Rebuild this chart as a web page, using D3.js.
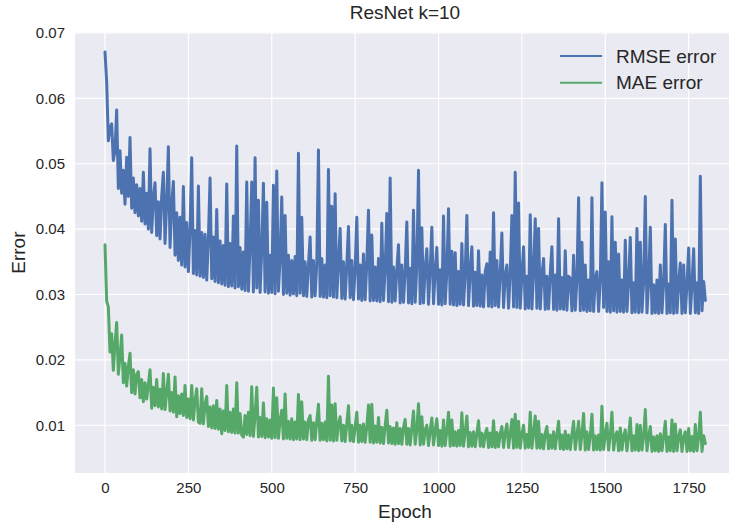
<!DOCTYPE html>
<html>
<head>
<meta charset="utf-8">
<script src="https://cdn.jsdelivr.net/npm/d3@7"></script>
<style>
  body { margin: 0; background: #fff; }
  text { font-family: "Liberation Sans", Arial, sans-serif; fill: #262626; }
</style>
</head>
<body>
<svg id="chart" width="729" height="522"></svg>
<script>
// one value every 5 epochs
const epochStep = 5;

const rmse = [
  0.0671,0.0625,0.0535,0.0555,0.0561,0.0505,0.0520,0.0582,0.0462,0.0520,0.0455,0.0490,0.0438,0.0510,0.0450,0.0540,0.0432,0.0478,0.0425,0.0468,
  0.0420,0.0462,0.0412,0.0487,0.0408,0.0455,0.0400,0.0523,0.0395,0.0448,0.0471,0.0390,0.0442,0.0385,0.0450,0.0487,0.0378,0.0440,0.0526,0.0372,
  0.0436,0.0473,0.0360,0.0425,0.0352,0.0418,0.0345,0.0465,0.0342,0.0410,0.0335,0.0400,0.0509,0.0332,0.0398,0.0330,0.0466,0.0328,0.0395,0.0326,
  0.0392,0.0322,0.0385,0.0478,0.0324,0.0388,0.0320,0.0430,0.0318,0.0382,0.0316,0.0375,0.0314,0.0469,0.0312,0.0378,0.0313,0.0420,0.0310,0.0527,
  0.0312,0.0372,0.0308,0.0365,0.0306,0.0472,0.0305,0.0375,0.0472,0.0304,0.0509,0.0310,0.0444,0.0303,0.0368,0.0470,0.0304,0.0441,0.0302,0.0360,
  0.0303,0.0467,0.0301,0.0489,0.0305,0.0355,0.0449,0.0300,0.0421,0.0302,0.0360,0.0299,0.0352,0.0301,0.0358,0.0298,0.0516,0.0302,0.0418,0.0298,
  0.0350,0.0297,0.0345,0.0388,0.0296,0.0352,0.0298,0.0348,0.0521,0.0297,0.0355,0.0296,0.0345,0.0295,0.0491,0.0298,0.0435,0.0296,0.0454,0.0295,
  0.0348,0.0401,0.0294,0.0350,0.0293,0.0345,0.0404,0.0295,0.0352,0.0292,0.0340,0.0418,0.0293,0.0345,0.0291,0.0362,0.0292,0.0348,0.0429,0.0290,
  0.0391,0.0291,0.0342,0.0290,0.0355,0.0289,0.0409,0.0291,0.0340,0.0424,0.0289,0.0478,0.0288,0.0342,0.0290,0.0338,0.0376,0.0287,0.0345,0.0288,
  0.0336,0.0411,0.0287,0.0340,0.0286,0.0429,0.0288,0.0345,0.0490,0.0286,0.0402,0.0287,0.0340,0.0370,0.0285,0.0338,0.0403,0.0286,0.0335,0.0372,
  0.0285,0.0338,0.0284,0.0420,0.0286,0.0335,0.0431,0.0285,0.0366,0.0284,0.0364,0.0283,0.0335,0.0285,0.0378,0.0284,0.0332,0.0421,0.0283,0.0336,
  0.0373,0.0282,0.0334,0.0283,0.0367,0.0282,0.0330,0.0281,0.0335,0.0347,0.0282,0.0365,0.0281,0.0425,0.0283,0.0352,0.0281,0.0332,0.0394,0.0280,
  0.0330,0.0345,0.0279,0.0332,0.0421,0.0281,0.0487,0.0280,0.0440,0.0279,0.0330,0.0373,0.0278,0.0328,0.0279,0.0422,0.0278,0.0335,0.0416,0.0279,
  0.0401,0.0278,0.0330,0.0355,0.0277,0.0328,0.0278,0.0332,0.0373,0.0277,0.0330,0.0276,0.0416,0.0278,0.0326,0.0277,0.0367,0.0276,0.0328,0.0325,
  0.0275,0.0360,0.0276,0.0322,0.0448,0.0275,0.0380,0.0276,0.0345,0.0274,0.0322,0.0275,0.0448,0.0274,0.0325,0.0335,0.0274,0.0320,0.0471,0.0280,
  0.0426,0.0274,0.0350,0.0273,0.0419,0.0275,0.0380,0.0273,0.0362,0.0274,0.0322,0.0273,0.0383,0.0274,0.0320,0.0387,0.0272,0.0318,0.0273,0.0401,
  0.0272,0.0380,0.0273,0.0320,0.0450,0.0272,0.0318,0.0403,0.0271,0.0315,0.0272,0.0322,0.0271,0.0345,0.0272,0.0318,0.0407,0.0271,0.0316,0.0272,
  0.0444,0.0271,0.0385,0.0272,0.0318,0.0348,0.0271,0.0345,0.0272,0.0316,0.0371,0.0271,0.0315,0.0370,0.0272,0.0318,0.0271,0.0481,0.0275,0.0320,
  0.0291
];

const mae = [
  0.0376,0.0290,0.0281,0.0212,0.0240,0.0184,0.0225,0.0257,0.0178,0.0205,0.0238,0.0165,0.0195,0.0160,0.0190,0.0210,0.0150,0.0185,0.0148,0.0178,
  0.0182,0.0142,0.0170,0.0136,0.0165,0.0140,0.0162,0.0185,0.0126,0.0158,0.0130,0.0170,0.0128,0.0155,0.0125,0.0179,0.0124,0.0150,0.0178,0.0122,
  0.0150,0.0120,0.0174,0.0113,0.0145,0.0118,0.0148,0.0115,0.0161,0.0112,0.0140,0.0110,0.0161,0.0108,0.0138,0.0156,0.0105,0.0103,0.0156,0.0102,
  0.0132,0.0144,0.0098,0.0128,0.0096,0.0130,0.0095,0.0138,0.0094,0.0125,0.0087,0.0122,0.0092,0.0161,0.0090,0.0120,0.0089,0.0125,0.0088,0.0165,
  0.0088,0.0118,0.0085,0.0082,0.0115,0.0086,0.0120,0.0084,0.0159,0.0083,0.0115,0.0158,0.0082,0.0112,0.0083,0.0134,0.0081,0.0110,0.0082,0.0108,
  0.0080,0.0157,0.0081,0.0142,0.0080,0.0108,0.0123,0.0079,0.0148,0.0080,0.0106,0.0079,0.0110,0.0078,0.0105,0.0079,0.0147,0.0078,0.0136,0.0079,
  0.0105,0.0078,0.0108,0.0115,0.0077,0.0104,0.0078,0.0106,0.0132,0.0077,0.0103,0.0078,0.0105,0.0076,0.0175,0.0077,0.0131,0.0076,0.0133,0.0077,
  0.0102,0.0113,0.0076,0.0100,0.0075,0.0103,0.0130,0.0076,0.0100,0.0075,0.0098,0.0120,0.0074,0.0100,0.0075,0.0102,0.0074,0.0098,0.0131,0.0074,
  0.0132,0.0073,0.0099,0.0074,0.0112,0.0073,0.0097,0.0072,0.0100,0.0123,0.0073,0.0098,0.0072,0.0096,0.0071,0.0104,0.0072,0.0095,0.0071,0.0097,
  0.0109,0.0071,0.0095,0.0070,0.0096,0.0122,0.0071,0.0094,0.0133,0.0070,0.0113,0.0071,0.0093,0.0100,0.0069,0.0092,0.0111,0.0070,0.0092,0.0110,
  0.0069,0.0092,0.0068,0.0108,0.0069,0.0091,0.0120,0.0068,0.0108,0.0069,0.0090,0.0068,0.0092,0.0069,0.0119,0.0068,0.0090,0.0114,0.0067,0.0089,
  0.0068,0.0090,0.0067,0.0088,0.0107,0.0068,0.0088,0.0067,0.0087,0.0095,0.0066,0.0088,0.0067,0.0107,0.0066,0.0089,0.0067,0.0087,0.0098,0.0066,
  0.0088,0.0102,0.0066,0.0087,0.0109,0.0065,0.0117,0.0066,0.0106,0.0065,0.0087,0.0100,0.0065,0.0086,0.0066,0.0120,0.0065,0.0088,0.0114,0.0065,
  0.0106,0.0065,0.0086,0.0064,0.0088,0.0098,0.0064,0.0085,0.0065,0.0090,0.0064,0.0086,0.0106,0.0064,0.0085,0.0063,0.0091,0.0064,0.0085,0.0063,
  0.0086,0.0106,0.0063,0.0085,0.0106,0.0063,0.0086,0.0118,0.0062,0.0090,0.0063,0.0084,0.0117,0.0062,0.0084,0.0063,0.0085,0.0062,0.0129,0.0063,
  0.0086,0.0103,0.0062,0.0085,0.0120,0.0062,0.0084,0.0090,0.0061,0.0096,0.0062,0.0084,0.0093,0.0061,0.0083,0.0111,0.0061,0.0084,0.0062,0.0101,
  0.0061,0.0100,0.0062,0.0083,0.0124,0.0061,0.0083,0.0098,0.0060,0.0082,0.0061,0.0084,0.0060,0.0087,0.0061,0.0083,0.0106,0.0060,0.0082,0.0061,
  0.0108,0.0060,0.0102,0.0061,0.0083,0.0093,0.0060,0.0082,0.0090,0.0060,0.0095,0.0061,0.0083,0.0060,0.0101,0.0061,0.0082,0.0120,0.0060,0.0084,
  0.0072
];

const seriesNames = ["RMSE error", "MAE error"];
const seriesColors = ["#4C72B0", "#55A868"];
const xTicks = [0, 250, 500, 750, 1000, 1250, 1500, 1750];
const yTicks = [0.01, 0.02, 0.03, 0.04, 0.05, 0.06, 0.07];

const svg = d3.select("#chart");
const plot = { left: 75, right: 735, top: 32.3, bottom: 473 };

const x = d3.scaleLinear().domain([-89.95, 1888.95]).range([plot.left, plot.right]);
const y = d3.scaleLinear().domain([0.0027, 0.0701]).range([plot.bottom, plot.top]);

svg.append("rect")
    .attr("width", 729).attr("height", 522).attr("fill", "#fff");

svg.append("rect")
    .attr("x", plot.left).attr("y", plot.top)
    .attr("width", plot.right - plot.left)
    .attr("height", plot.bottom - plot.top)
    .attr("fill", "#EAEAF2");

svg.append("clipPath").attr("id", "clip")
  .append("rect")
    .attr("x", plot.left).attr("y", plot.top)
    .attr("width", plot.right - plot.left)
    .attr("height", plot.bottom - plot.top);

// grid
svg.append("g")
  .selectAll("line")
  .data(xTicks)
  .join("line")
    .attr("x1", d => x(d)).attr("x2", d => x(d))
    .attr("y1", plot.top).attr("y2", plot.bottom)
    .attr("stroke", "#fff").attr("stroke-width", 1.2);

svg.append("g")
  .selectAll("line")
  .data(yTicks)
  .join("line")
    .attr("x1", plot.left).attr("x2", plot.right)
    .attr("y1", d => y(d)).attr("y2", d => y(d))
    .attr("stroke", "#fff").attr("stroke-width", 1.2);

// axes (labels only, seaborn darkgrid look)
const xAxis = svg.append("g")
    .attr("transform", `translate(0,${plot.bottom})`)
    .call(d3.axisBottom(x).tickValues(xTicks).tickSize(0).tickPadding(9).tickFormat(d3.format("d")));
const yAxis = svg.append("g")
    .attr("transform", `translate(${plot.left},0)`)
    .call(d3.axisLeft(y).tickValues(yTicks).tickSize(0).tickPadding(10).tickFormat(d3.format(".2f")));
[xAxis, yAxis].forEach(a => {
    a.select(".domain").remove();
    a.selectAll("text").attr("font-size", 15).attr("fill", "#262626")
        .attr("font-family", "'Liberation Sans', Arial, sans-serif");
});

// lines
const line = d3.line()
    .x((d, i) => x(i * epochStep))
    .y(d => y(d));

const lines = svg.append("g").attr("clip-path", "url(#clip)");
[rmse, mae].forEach((vals, k) => {
    lines.append("path")
        .datum(vals)
        .attr("d", line)
        .attr("fill", "none")
        .attr("stroke", seriesColors[k])
        .attr("stroke-width", 3)
        .attr("stroke-linejoin", "round")
        .attr("stroke-linecap", "round");
});

// titles
svg.append("text")
    .attr("x", (plot.left + plot.right) / 2).attr("y", 19)
    .attr("text-anchor", "middle").attr("font-size", 19)
    .text("ResNet k=10");

svg.append("text")
    .attr("x", (plot.left + plot.right) / 2).attr("y", 518)
    .attr("text-anchor", "middle").attr("font-size", 19)
    .text("Epoch");

svg.append("text")
    .attr("transform", `translate(25,${(plot.top + plot.bottom) / 2}) rotate(-90)`)
    .attr("text-anchor", "middle").attr("font-size", 19)
    .text("Error");

// legend
const legend = svg.append("g")
  .selectAll("g")
  .data(seriesNames)
  .join("g")
    .attr("transform", (d, i) => `translate(560,${56 + i * 26.7})`);

legend.append("line")
    .attr("x1", 0).attr("x2", 42)
    .attr("stroke", (d, i) => seriesColors[i])
    .attr("stroke-width", 2);

legend.append("text")
    .attr("x", 56).attr("dy", "0.35em")
    .attr("font-size", 19)
    .text(d => d);
</script>
</body>
</html>
